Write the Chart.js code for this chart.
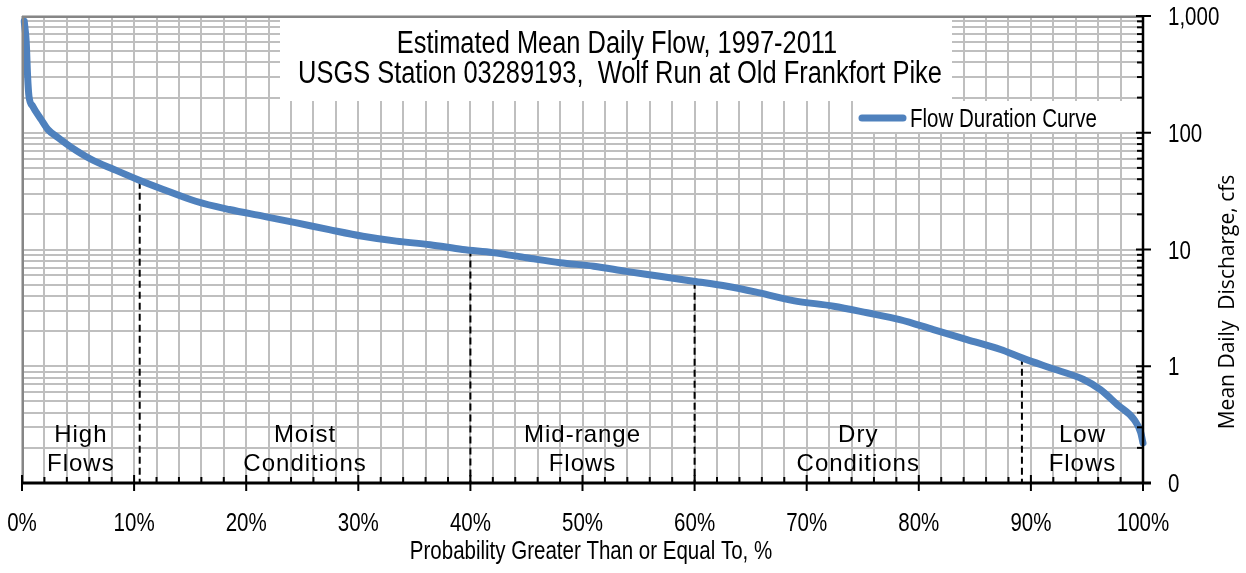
<!DOCTYPE html>
<html>
<head>
<meta charset="utf-8">
<script src="https://cdn.jsdelivr.net/npm/chart.js@4/dist/chart.umd.min.js"></script>
<style>
  html, body { margin: 0; padding: 0; background: #fff; }
</style>
</head>
<body>
<canvas id="myChart" width="1246" height="573"></canvas>
<script>
// flow duration curve (percent exceeded -> cfs)
var probability = [0.2, 0.38, 0.5, 0.62, 0.95, 1.7, 2.3, 3.2, 4.4, 6.2, 8.2, 10.3, 12.6, 15.5, 18.5,
  21.5, 24.5, 27.4, 30.4, 33.4, 36.4, 39.3, 42, 45, 48, 51, 53.9, 56.9, 59.9, 62.9, 65.8, 68.8,
  72.4, 75.4, 78.3, 81.3, 84.3, 87.3, 89.2, 91.7, 94.7, 96.2, 97.7, 99.2, 99.8, 100];
var discharge = [900, 590, 305, 206, 169, 130, 107, 91, 75, 59, 48.5, 39.8, 32.7, 25.9, 22,
  19.3, 16.9, 14.8, 13, 11.8, 11, 10, 9.4, 8.5, 7.7, 7.2, 6.5, 5.9, 5.35, 4.85, 4.25, 3.65,
  3.27, 2.87, 2.51, 2.06, 1.69, 1.39, 1.18, 0.97, 0.77, 0.63, 0.47, 0.35, 0.27, 0.22];

// flow zone dividers
var dividerProb = [10.5, 40, 60, 89.2];
var dividerFlow = [38, 10, 5.3, 1.18];

var zoneNames = [['High', 'Flows'], ['Moist', 'Conditions'], ['Mid-range', 'Flows'], ['Dry', 'Conditions'], ['Low', 'Flows']];
var zoneCenters = [5.25, 25.25, 50, 74.6, 94.6];

var xTickValues = [0, 10, 20, 30, 40, 50, 60, 70, 80, 90, 100];
var xTickLabels = ['0%', '10%', '20%', '30%', '40%', '50%', '60%', '70%', '80%', '90%', '100%'];
var yTickValues = [0.1, 1, 10, 100, 1000];
var yTickLabels = ['0', '1', '10', '100', '1,000'];

var titleLines = ['Estimated Mean Daily Flow, 1997-2011', 'USGS Station 03289193,  Wolf Run at Old Frankfort Pike'];
var seriesName = 'Flow Duration Curve';
var xTitle = 'Probability Greater Than or Equal To, %';
var yTitle = 'Mean Daily  Discharge, cfs';

var sans = '"Liberation Sans", Arial, sans-serif';
var blue = '#4f81bd';
var gridGray = '#bfbfbf';

// Arial Narrow look-alike: Liberation Sans squeezed horizontally
function narrowText(ctx, text, x, y, size, align) {
  ctx.save();
  ctx.font = size + 'px ' + sans;
  ctx.textAlign = align;
  ctx.textBaseline = 'alphabetic';
  ctx.translate(x, y);
  ctx.scale(0.82, 1);
  ctx.fillText(text, 0, 0);
  ctx.restore();
}

var dividerSets = dividerProb.map(function (p, i) {
  return {
    label: 'divider' + i,
    data: [{ x: p, y: dividerFlow[i] }, { x: p, y: 0.1 }],
    borderColor: '#000',
    borderWidth: 2,
    borderDash: [7, 4],
    pointRadius: 0,
    order: 1
  };
});

var overlay = {
  id: 'overlay',
  beforeDatasetsDraw: function (chart) {
    var ctx = chart.ctx, a = chart.chartArea;
    ctx.save();
    ctx.fillStyle = '#fff';
    // title box and legend box sit on top of the grid
    ctx.fillRect(280, a.top, 672, 85);
    ctx.fillRect(855, a.top + 85, a.right - 855, 31);
    ctx.restore();
  },
  afterDraw: function (chart) {
    var ctx = chart.ctx, a = chart.chartArea;
    var xs = chart.scales.x, ys = chart.scales.y;
    ctx.save();

    // plot area border (top, left)
    ctx.strokeStyle = '#868686';
    ctx.lineWidth = 2;
    ctx.beginPath();
    ctx.moveTo(a.left, a.top + 1); ctx.lineTo(a.right, a.top + 1);
    ctx.moveTo(a.left + 1, a.top); ctx.lineTo(a.left + 1, a.bottom);
    ctx.stroke();

    // x axis with tick marks
    ctx.strokeStyle = '#000';
    ctx.lineWidth = 2;
    for (var v = 0; v <= 100; v += 2) {
      var px = xs.getPixelForValue(v);
      ctx.beginPath();
      if (v % 10 === 0) { ctx.moveTo(px, a.bottom - 8); ctx.lineTo(px, a.bottom + 8); }
      else { ctx.moveTo(px, a.bottom - 6); ctx.lineTo(px, a.bottom); }
      ctx.stroke();
    }
    ctx.lineWidth = 3;
    ctx.beginPath();
    ctx.moveTo(a.left, a.bottom); ctx.lineTo(a.right + 8, a.bottom);
    ctx.stroke();

    // y axis with tick marks
    ys.ticks.forEach(function (t) {
      var py = ys.getPixelForValue(t.value);
      ctx.lineWidth = 2;
      ctx.beginPath();
      if (yTickValues.indexOf(t.value) >= 0) { ctx.moveTo(a.right - 7, py); ctx.lineTo(a.right + 8, py); }
      else { ctx.moveTo(a.right - 6, py); ctx.lineTo(a.right, py); }
      ctx.stroke();
    });
    ctx.lineWidth = 2.5;
    ctx.beginPath();
    ctx.moveTo(a.right, a.top); ctx.lineTo(a.right, a.bottom);
    ctx.stroke();

    ctx.fillStyle = '#000';

    // tick labels
    xTickValues.forEach(function (val, i) {
      narrowText(ctx, xTickLabels[i], xs.getPixelForValue(val), a.bottom + 48, 25, 'center');
    });
    yTickValues.forEach(function (val, i) {
      narrowText(ctx, yTickLabels[i], a.right + 25, ys.getPixelForValue(val) + 9, 25, 'left');
    });

    // chart title
    narrowText(ctx, titleLines[0], 617, a.top + 37, 31, 'center');
    narrowText(ctx, titleLines[1], 620, a.top + 67, 31, 'center');

    // legend
    var ds = chart.data.datasets[0];
    ctx.strokeStyle = ds.borderColor;
    ctx.lineWidth = 7;
    ctx.lineCap = 'round';
    ctx.beginPath();
    ctx.moveTo(862, a.top + 102); ctx.lineTo(903, a.top + 102);
    ctx.stroke();
    narrowText(ctx, ds.label, 910, a.top + 111, 25, 'left');

    // zone labels
    ctx.textAlign = 'center';
    ctx.font = '24px ' + sans;
    ctx.letterSpacing = '1px';
    zoneNames.forEach(function (lines, i) {
      var cx = xs.getPixelForValue(zoneCenters[i]);
      ctx.fillText(lines[0], cx, a.bottom - 41);
      ctx.fillText(lines[1], cx, a.bottom - 12);
    });
    ctx.letterSpacing = '0px';

    // axis titles
    narrowText(ctx, xTitle, 591, 559, 25, 'center');
    ctx.translate(1228, 302);
    ctx.rotate(-Math.PI / 2);
    ctx.textAlign = 'center';
    ctx.textBaseline = 'middle';
    ctx.font = '21px "Open Sans", sans-serif';
    ctx.fillText(yTitle, 0, 0);
    ctx.restore();
  }
};

var ctx = document.getElementById('myChart').getContext('2d');
var chart = new Chart(ctx, {
  type: 'line',
  data: {
    datasets: [
      {
        label: seriesName,
        data: probability.map(function (p, i) { return { x: p, y: discharge[i] }; }),
        borderColor: blue,
        borderWidth: 7,
        pointRadius: 0,
        cubicInterpolationMode: 'monotone',
        borderCapStyle: 'round',
        borderJoinStyle: 'round',
        clip: 8,
        order: 0
      }
    ].concat(dividerSets)
  },
  options: {
    responsive: false,
    animation: false,
    devicePixelRatio: 1,
    layout: { padding: { left: 22, top: 16, right: 0, bottom: 0 } },
    plugins: {
      legend: { display: false },
      title: { display: false },
      tooltip: { enabled: false }
    },
    scales: {
      x: {
        type: 'linear',
        min: 0,
        max: 100,
        position: 'bottom',
        afterFit: function (s) {
          s.height = 90;
          s.paddingLeft = 0; s.paddingRight = 0; s.paddingTop = 0; s.paddingBottom = 0;
        },
        border: { display: false },
        grid: { color: gridGray, lineWidth: 2, drawTicks: false },
        ticks: { stepSize: 2, autoSkip: false, maxRotation: 0, display: false }
      },
      y: {
        type: 'logarithmic',
        min: 0.1,
        max: 1000,
        position: 'right',
        afterFit: function (s) {
          s.width = 103;
          s.paddingLeft = 0; s.paddingRight = 0; s.paddingTop = 0; s.paddingBottom = 0;
        },
        afterBuildTicks: function (s) {
          var t = [];
          for (var d = 0; d < yTickValues.length - 1; d++) {
            for (var m = 1; m < 10; m++) t.push({ value: +(yTickValues[d] * m).toPrecision(3) });
          }
          t.push({ value: yTickValues[yTickValues.length - 1] });
          s.ticks = t;
        },
        border: { display: false },
        grid: { color: gridGray, lineWidth: 2, drawTicks: false },
        ticks: { autoSkip: false, display: false }
      }
    }
  },
  plugins: [overlay]
});
</script>
</body>
</html>
